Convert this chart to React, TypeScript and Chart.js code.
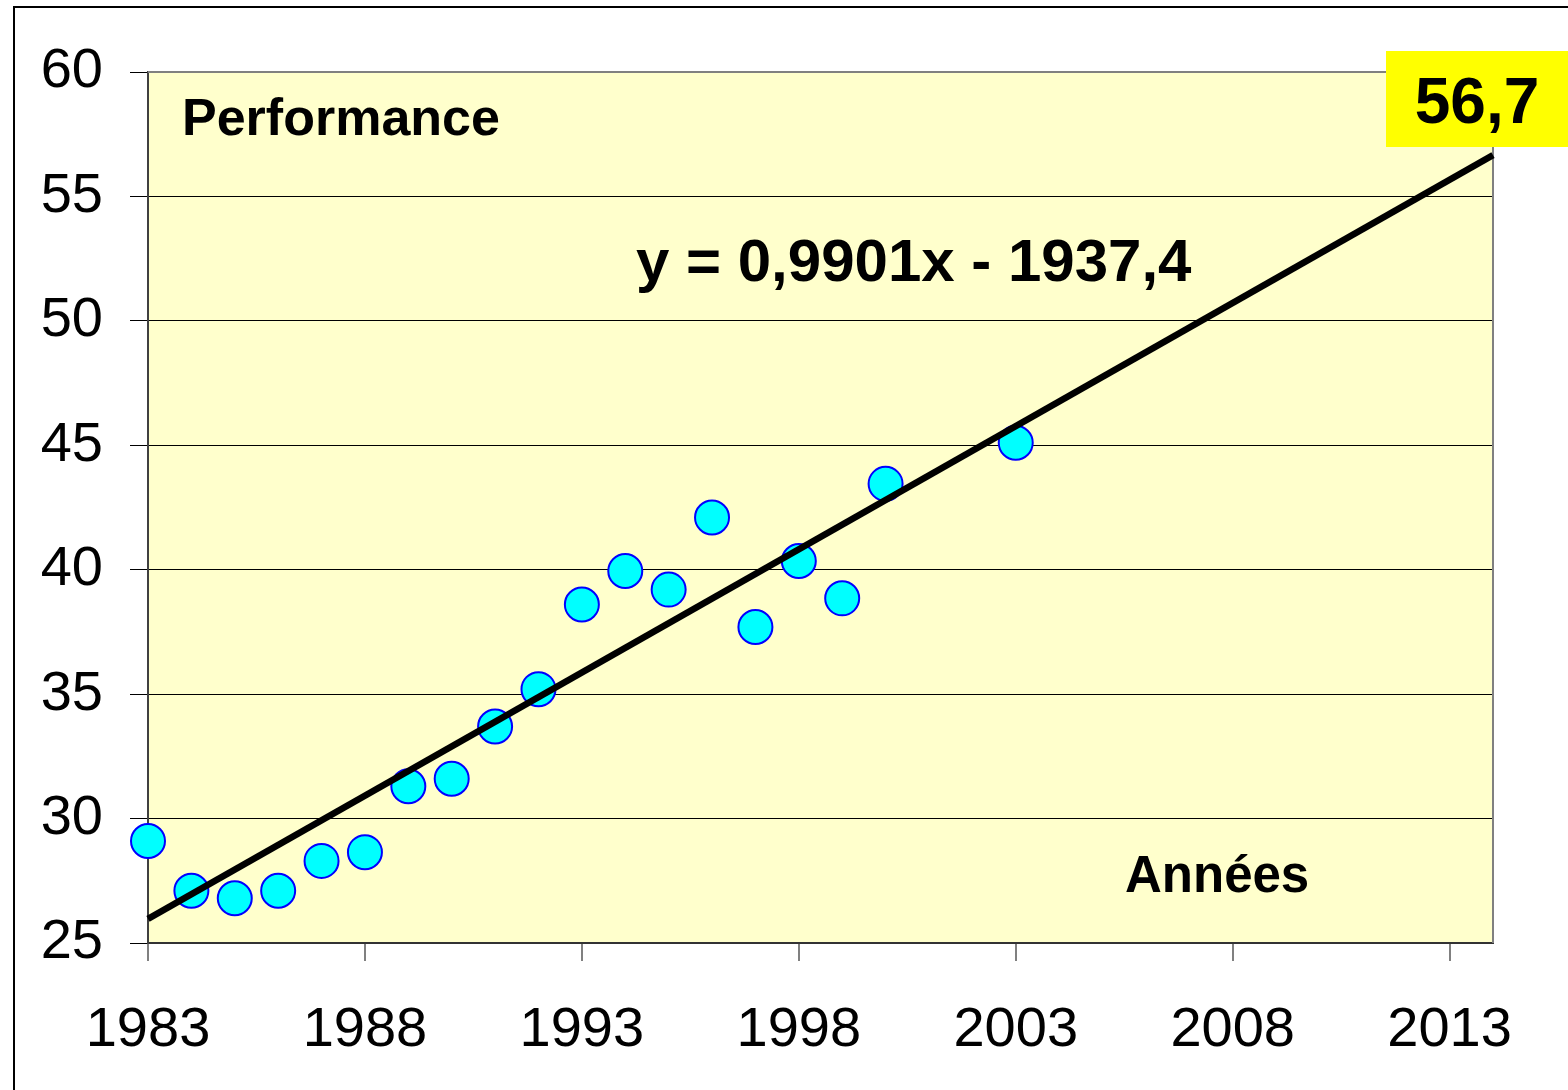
import React, { useEffect, useRef } from "react";
import { Chart, registerables } from "chart.js";

Chart.register(...registerables);

const years = [1983, 1984, 1985, 1986, 1987, 1988, 1989, 1990, 1991, 1992, 1993, 1994, 1995, 1996, 1997, 1998, 1999, 2000, 2003];
const performance = [29.1, 27.1, 26.8, 27.1, 28.3, 28.65, 31.3, 31.6, 33.7, 35.2, 38.6, 39.95, 39.2, 42.1, 37.7, 40.35, 38.85, 43.45, 45.1];
const trendYears = [1983, 2014];
const trendValues = [25.97, 56.66];
const xTicks = [1983, 1988, 1993, 1998, 2003, 2008, 2013];
const yTicks = [25, 30, 35, 40, 45, 50, 55, 60];
const equationLabel = "y = 0,9901x - 1937,4";
const endValueLabel = "56,7";
const yAxisTitle = "Performance";
const xAxisTitle = "Années";

const FONT = '"Liberation Sans", Arial, sans-serif';

const decorPlugin = {
  id: "decor",
  beforeDraw(chart: any) {
    const { ctx, chartArea: a, width, height } = chart;
    ctx.save();
    ctx.fillStyle = "#ffffff";
    ctx.fillRect(0, 0, width, height);
    ctx.strokeStyle = "#000000";
    ctx.lineWidth = 2;
    ctx.strokeRect(14, 7, width + 10, height + 10);
    ctx.fillStyle = "#FFFFCC";
    ctx.fillRect(a.left, a.top, a.right - a.left, a.bottom - a.top);
    ctx.restore();
  },
  beforeDatasetsDraw(chart: any) {
    const { ctx, chartArea: a } = chart;
    ctx.save();
    ctx.strokeStyle = "#808080";
    ctx.lineWidth = 2;
    ctx.beginPath();
    ctx.moveTo(a.left, a.top);
    ctx.lineTo(a.right, a.top);
    ctx.lineTo(a.right, a.bottom);
    ctx.stroke();
    ctx.restore();
  },
  afterDraw(chart: any) {
    const { ctx } = chart;
    ctx.save();
    ctx.fillStyle = "#000000";
    ctx.textBaseline = "alphabetic";
    ctx.textAlign = "left";
    ctx.font = `bold 52px ${FONT}`;
    ctx.fillText(yAxisTitle, 182, 135);
    ctx.font = `bold 60px ${FONT}`;
    ctx.fillText(equationLabel, 636, 281);
    ctx.font = `bold 51px ${FONT}`;
    ctx.fillText(xAxisTitle, 1125, 892);
    ctx.fillStyle = "#FFFF00";
    ctx.fillRect(1386, 51, 182, 96);
    ctx.fillStyle = "#000000";
    ctx.textAlign = "center";
    ctx.font = `bold 64px ${FONT}`;
    ctx.fillText(endValueLabel, 1477, 123);
    ctx.restore();
  },
};

export default function App() {
  const ref = useRef<HTMLCanvasElement | null>(null);
  useEffect(() => {
    if (!ref.current) return;
    const chart = new Chart(ref.current, {
      type: "scatter",
      data: {
        datasets: [
          {
            type: "line",
            label: "trend",
            data: trendYears.map((x, i) => ({ x, y: trendValues[i] })),
            borderColor: "#000000",
            borderWidth: 6.5,
            pointRadius: 0,
            fill: false,
            clip: false,
          } as any,
          {
            label: "Performance",
            data: years.map((x, i) => ({ x, y: performance[i] })),
            backgroundColor: "#00FFFF",
            borderColor: "#0000FF",
            borderWidth: 2,
            pointRadius: 17,
            pointHoverRadius: 17,
            clip: false,
          } as any,
        ],
      },
      options: {
        responsive: false,
        animation: false,
        events: [],
        layout: { padding: { left: 0, top: 72, right: 75, bottom: 0 } },
        plugins: { legend: { display: false }, tooltip: { enabled: false } },
        scales: {
          x: {
            type: "linear",
            min: 1983,
            max: 2014,
            afterBuildTicks: (s: any) => {
              s.ticks = xTicks.map((v) => ({ value: v }));
            },
            afterFit: (s: any) => {
              s.height = 147;
            },
            grid: { drawOnChartArea: false, drawTicks: true, tickLength: 18, color: "#808080", lineWidth: 2 },
            border: { display: true, color: "#333333", width: 2 },
            ticks: {
              color: "#000000",
              font: { family: FONT, size: 56 },
              padding: 36,
              maxRotation: 0,
              autoSkip: false,
              callback: (v: any) => String(v),
            },
          },
          y: {
            type: "linear",
            min: 25,
            max: 60,
            afterBuildTicks: (s: any) => {
              s.ticks = yTicks.map((v) => ({ value: v }));
            },
            afterFit: (s: any) => {
              s.width = 148;
            },
            grid: { drawOnChartArea: true, drawTicks: true, tickLength: 18, color: "#000000", lineWidth: 1 },
            border: { display: true, color: "#404040", width: 2 },
            ticks: {
              color: "#000000",
              font: { family: FONT, size: 56 },
              padding: 27,
              autoSkip: false,
              callback: (v: any) => String(v),
            },
          },
        },
      },
      plugins: [decorPlugin],
    });
    return () => chart.destroy();
  }, []);
  return (
    <div style={{ position: "absolute", left: 0, top: 0, width: 1568, height: 1090 }}>
      <canvas ref={ref} width={1568} height={1090} style={{ display: "block" }} />
    </div>
  );
}
